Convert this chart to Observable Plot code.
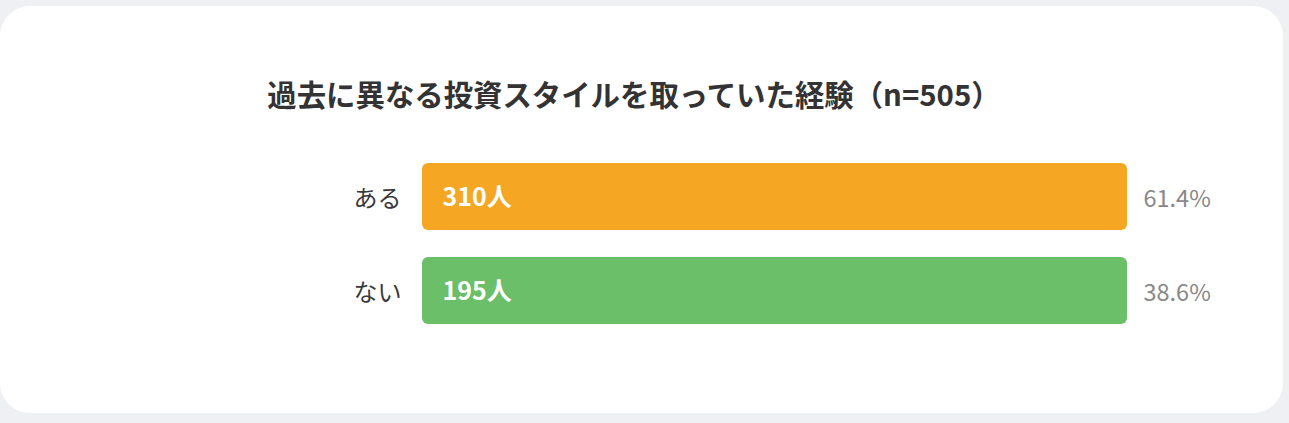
<!DOCTYPE html>
<html>
<head>
<meta charset="utf-8">
<script src="https://cdn.jsdelivr.net/npm/d3@7"></script>
<script src="https://cdn.jsdelivr.net/npm/@observablehq/plot@0.6"></script>
<style>
  html, body { margin: 0; padding: 0; background: #eff0f3; width: 1289px; height: 423px; overflow: hidden; }
  body { font-family: "Noto Sans CJK JP", "Noto Sans", sans-serif; position: relative; }
  #card { position: absolute; left: 0; top: 6px; width: 1283px; height: 407px; background: #fff; border-radius: 30px; }
  #title { position: absolute; left: 0; top: 77px; width: 1268px; text-align: center; font-size: 29.4px; line-height: 32px; font-weight: 700; color: #333; }
  #chart { position: absolute; left: 0; top: 130px; }
</style>
</head>
<body>
<div id="card"></div>
<div id="title">過去に異なる投資スタイルを取っていた経験（n=505）</div>
<div id="chart"></div>
<script>
const total = 505;
const categories = ["ある", "ない"];
const counts = [310, 195];
const percents = [61.4, 38.6];
const colors = ["#f5a623", "#6cbf69"];

const rows = categories.map((c, i) => ({
  category: c,
  count: counts[i],
  percent: percents[i],
  total: total,
  color: colors[i]
}));

const font = '"Noto Sans CJK JP", "Noto Sans", sans-serif';

const chart = Plot.plot({
  width: 1289,
  height: 230,
  marginLeft: 422,
  marginRight: 162,
  marginTop: 6,
  marginBottom: 9,
  style: { background: "transparent", fontFamily: font, overflow: "visible" },
  x: { domain: [0, total], axis: null },
  y: { domain: categories, padding: 0.287, axis: null },
  marks: [
    Plot.barX(rows, { y: "category", x1: 0, x2: "total", fill: "color", rx: 6, ry: 6 }),
    Plot.text(rows, { y: "category", x: 0, text: "category", textAnchor: "end", dx: -21, dy: 2,
      fill: "#3a3a3a", fontSize: 24, fontWeight: 400 }),
    Plot.text(rows, { y: "category", x: 0, text: d => d.count + "人", textAnchor: "start", dx: 20, dy: 1,
      fill: "#fff", fontSize: 25, fontWeight: 700 }),
    Plot.text(rows, { y: "category", x: "total", text: d => d.percent.toFixed(1) + "%", textAnchor: "start", dx: 16, dy: 2,
      fill: "#888", fontSize: 23.5, fontWeight: 400 })
  ]
});
document.getElementById("chart").appendChild(chart);
</script>
</body>
</html>
